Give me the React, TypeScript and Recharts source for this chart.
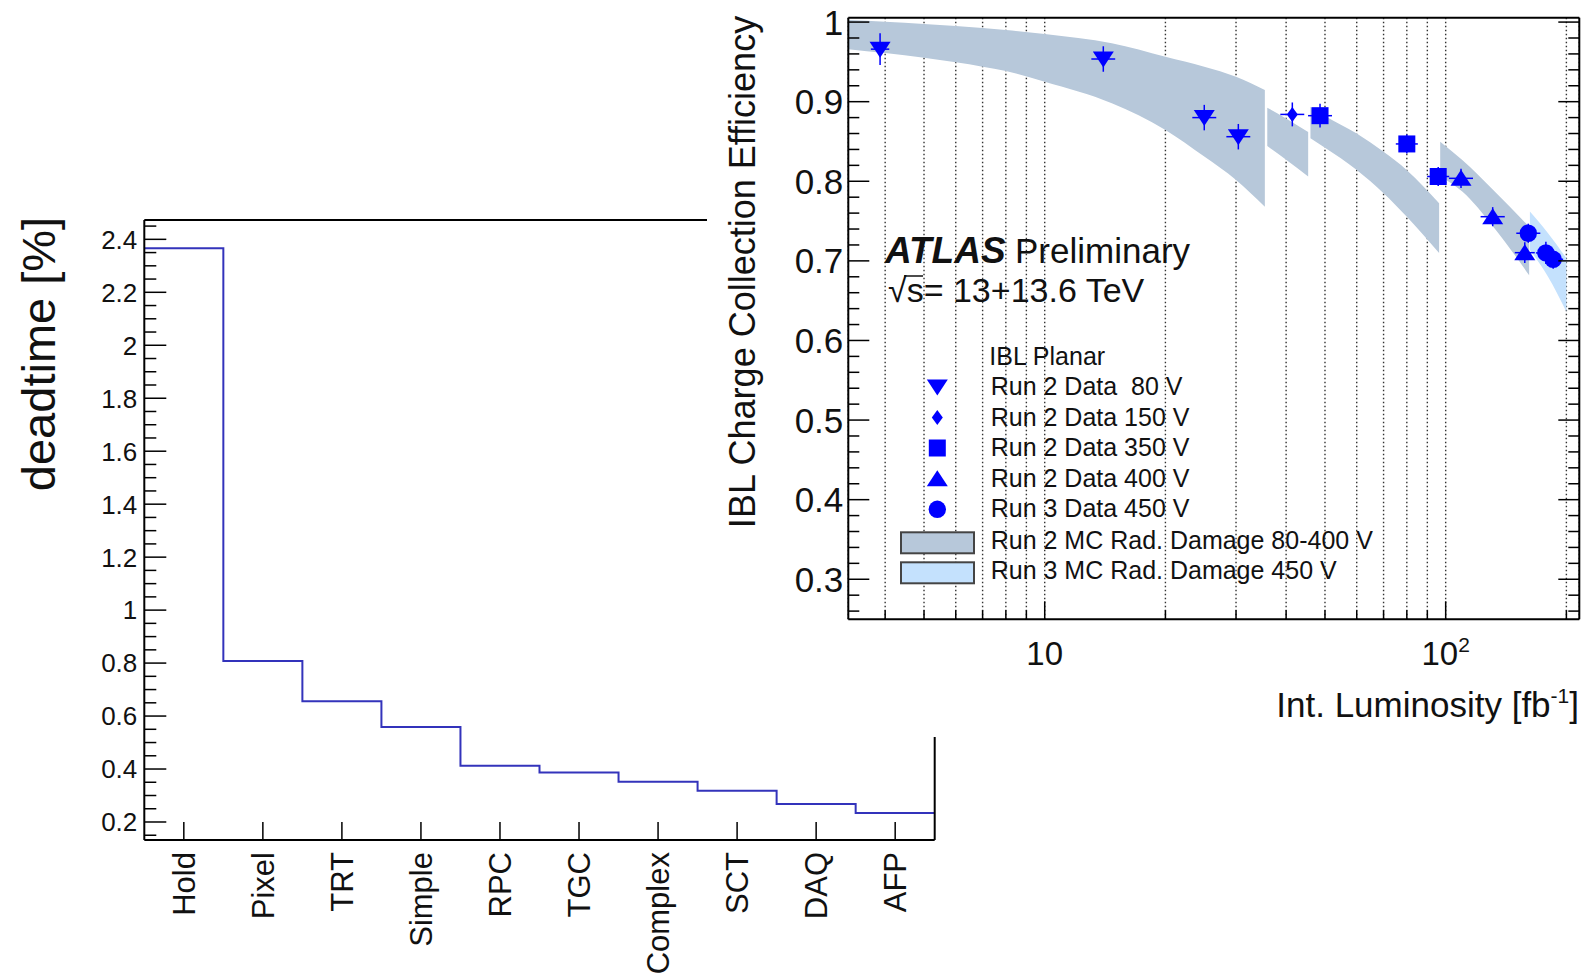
import React from 'react';
import { ComposedChart, Line, Area, Scatter, XAxis, YAxis, CartesianGrid, ErrorBar } from 'recharts';

const FONT = '"Liberation Sans", Arial, Helvetica, sans-serif';

// ---------------- Left chart: deadtime histogram ----------------
const triggerCategories = ['Hold', 'Pixel', 'TRT', 'Simple', 'RPC', 'TGC', 'Complex', 'SCT', 'DAQ', 'AFP'];
const deadtimeValues = [2.366, 0.808, 0.656, 0.559, 0.412, 0.387, 0.352, 0.318, 0.268, 0.234];
const deadtimeMajorTicks = [0.2, 0.4, 0.6, 0.8, 1.0, 1.2, 1.4, 1.6, 1.8, 2.0, 2.2, 2.4];
const deadtimeTickLabels = ['0.2', '0.4', '0.6', '0.8', '1', '1.2', '1.4', '1.6', '1.8', '2', '2.2', '2.4'];
const deadtimeDomain = [0.132, 2.473];
const deadtimeAllTicks = Array.from({ length: 47 }, (_, i) => +(0.15 + 0.05 * i).toFixed(2));

// ---------------- Right chart: IBL charge collection efficiency ----------------
const lumiTicks = [4, 5, 6, 7, 8, 9, 10, 20, 30, 40, 50, 60, 70, 80, 90, 100, 200];
const lumiDomain = [3.237, 215.4];
const effMajorTicks = [0.3, 0.4, 0.5, 0.6, 0.7, 0.8, 0.9, 1.0];
const effTickLabels = ['0.3', '0.4', '0.5', '0.6', '0.7', '0.8', '0.9', '1'];
const effDomain = [0.2497, 1.0055];
const effAllTicks = Array.from({ length: 38 }, (_, i) => +(0.26 + 0.02 * i).toFixed(2));

const lumi80 = [3.885, 14.0, 25.0, 30.4];
const eff80 = [0.966, 0.9536, 0.88, 0.856];
const effErr80 = [0.02, 0.016, 0.016, 0.016];
const lumiErr80 = [[0.2, 0.21], [0.93, 0.99], [1.66, 1.78], [2.02, 2.16]];

const lumi150 = [41.45];
const eff150 = [0.884];
const effErr150 = [0.015];
const lumiErr150 = [[2.76, 2.94]];

const lumi350 = [48.6, 80.0, 95.8];
const eff350 = [0.8824, 0.8469, 0.806];
const effErr350 = [0.015, 0.012, 0.012];
const lumiErr350 = [[3.23, 3.45], [4.9, 5.22], [5.86, 6.25]];

const lumi400 = [109.2, 131.0, 157.5];
const eff400 = [0.8037, 0.7555, 0.7103];
const effErr400 = [0.012, 0.012, 0.013];
const lumiErr400 = [[7.3, 7.8], [8.8, 9.4], [8.8, 9.3]];

const lumi450 = [160.7, 177.8, 185.4];
const eff450 = [0.7347, 0.71, 0.702];
const effErr450 = [0.012, 0.014, 0.012];
const lumiErr450 = [[10.7, 11.5], [9.9, 10.5], [10.3, 10.9]];

// MC bands: [lumi, low, high]
const bandRun2A = [[3.237, 0.966, 1.0026], [4, 0.961, 1.0005], [5, 0.9553, 0.9976], [6, 0.9495, 0.995], [7, 0.944, 0.9926], [8, 0.9386, 0.99], [10, 0.925, 0.985], [14.7, 0.898, 0.9734], [20, 0.8645, 0.9565], [25, 0.831, 0.944], [30, 0.8016, 0.9314], [35.4, 0.768, 0.9147]];
const bandRun2B = [[35.9, 0.8443, 0.8925], [40, 0.827, 0.879], [45.4, 0.806, 0.862]];
const bandRun2C = [[46.0, 0.854, 0.8937], [50, 0.842, 0.882], [60, 0.8142, 0.86], [70, 0.785, 0.837], [80, 0.7555, 0.814], [96.3, 0.71, 0.7724]];
const bandRun2D = [[96.9, 0.806, 0.8498], [110, 0.787, 0.8266], [131.4, 0.743, 0.789], [161.5, 0.682, 0.743]];
const bandRun3 = [[162.2, 0.7137, 0.762], [180, 0.68, 0.7347], [200, 0.636, 0.7033]];

const seriesNames = ['Run 2 Data  80 V', 'Run 2 Data 150 V', 'Run 2 Data 350 V', 'Run 2 Data 400 V', 'Run 3 Data 450 V'];
const seriesMarkers = ['triDown', 'diamond', 'square', 'triUp', 'circle'];
const bandNames = ['Run 2 MC Rad. Damage 80-400 V', 'Run 3 MC Rad. Damage 450 V'];
const bandColors = ['#b7c8da', '#c4e1fd'];
const MARKER_BLUE = '#0000ff';

const makePoints = (xs: number[], ys: number[], ey: number[], ex: number[][]) =>
  xs.map((x, i) => ({ x, y: ys[i], ey: ey[i], ex: ex[i] }));

const seriesData = [
  makePoints(lumi80, eff80, effErr80, lumiErr80),
  makePoints(lumi150, eff150, effErr150, lumiErr150),
  makePoints(lumi350, eff350, effErr350, lumiErr350),
  makePoints(lumi400, eff400, effErr400, lumiErr400),
  makePoints(lumi450, eff450, effErr450, lumiErr450),
];

const bandSets: [string, number[][]][] = [
  ['r2a', bandRun2A], ['r2b', bandRun2B], ['r2c', bandRun2C], ['r2d', bandRun2D], ['r3', bandRun3],
];
const bandData = bandSets
  .flatMap(([key, rows]) => rows.map(([x, lo, hi]) => ({ x, [key]: [lo, hi] } as any)))
  .sort((a, b) => a.x - b.x);

const histData = triggerCategories
  .map((_, i) => ({ x: i, v: deadtimeValues[i] }))
  .concat([{ x: triggerCategories.length, v: deadtimeValues[deadtimeValues.length - 1] }]);
const categoryTicks = triggerCategories.map((_, i) => i + 0.5);

// ---------------- markers ----------------
const Marker = ({ kind, cx, cy }: { kind: string; cx: number; cy: number }) => {
  if (cx == null || cy == null) return null;
  switch (kind) {
    case 'triDown':
      return <path d={`M${cx - 10.5},${cy - 7.5}L${cx + 10.5},${cy - 7.5}L${cx},${cy + 8.5}Z`} fill={MARKER_BLUE} />;
    case 'triUp':
      return <path d={`M${cx - 10.5},${cy + 7.5}L${cx + 10.5},${cy + 7.5}L${cx},${cy - 8.5}Z`} fill={MARKER_BLUE} />;
    case 'diamond':
      return <path d={`M${cx},${cy - 7.5}L${cx + 5.5},${cy}L${cx},${cy + 7.5}L${cx - 5.5},${cy}Z`} fill={MARKER_BLUE} />;
    case 'square':
      return <rect x={cx - 8.5} y={cy - 8.5} width={17} height={17} fill={MARKER_BLUE} />;
    default:
      return <circle cx={cx} cy={cy} r={8.7} fill={MARKER_BLUE} />;
  }
};

// ---------------- tick renderers ----------------
const near = (a: number, b: number) => Math.abs(a - b) < 1e-6;

const DeadYTick = (props: any) => {
  const { x, y, payload } = props;
  const idx = deadtimeMajorTicks.findIndex((t) => near(t, payload.value));
  const major = idx >= 0;
  return (
    <g>
      <line x1={x} x2={x + (major ? 22 : 12)} y1={y} y2={y} stroke="#000" strokeWidth={1.5} />
      {major && (
        <text x={x - 7} y={y} dy="0.36em" textAnchor="end" fontSize={26} fontFamily={FONT} fill="#111">
          {deadtimeTickLabels[idx]}
        </text>
      )}
    </g>
  );
};

const DeadXTick = (props: any) => {
  const { x, y, payload } = props;
  const label = triggerCategories[Math.floor(payload.value)];
  return (
    <g>
      <line x1={x} x2={x} y1={y} y2={y - 18} stroke="#000" strokeWidth={1.5} />
      <text
        transform={`translate(${x},${y + 12}) rotate(-90)`}
        dy="0.36em"
        textAnchor="end"
        fontSize={31}
        fontFamily={FONT}
        fill="#111"
      >
        {label}
      </text>
    </g>
  );
};

const isMajorLumi = (v: number) => near(v, 10) || near(v, 100);

const LumiBottomTick = (props: any) => {
  const { x, y, payload } = props;
  const v = payload.value;
  const major = isMajorLumi(v);
  return (
    <g>
      <line x1={x} x2={x} y1={y} y2={y - (major ? 18 : 9)} stroke="#000" strokeWidth={1.5} />
      {near(v, 10) && (
        <text x={x} y={y + 46} textAnchor="middle" fontSize={33} fontFamily={FONT} fill="#111">10</text>
      )}
      {near(v, 100) && (
        <text x={x} y={y + 46} textAnchor="middle" fontSize={33} fontFamily={FONT} fill="#111">
          10<tspan dy={-13} fontSize={21}>2</tspan>
        </text>
      )}
    </g>
  );
};

const LumiTopTick = (props: any) => {
  const { x, y, payload } = props;
  const major = isMajorLumi(payload.value);
  return <line x1={x} x2={x} y1={y} y2={y + (major ? 18 : 8)} stroke="#000" strokeWidth={1.5} />;
};

const EffLeftTick = (props: any) => {
  const { x, y, payload } = props;
  const idx = effMajorTicks.findIndex((t) => near(t, payload.value));
  const major = idx >= 0;
  return (
    <g>
      <line x1={x} x2={x + (major ? 21 : 11)} y1={y} y2={y} stroke="#000" strokeWidth={1.5} />
      {major && (
        <text x={x - 5} y={y} dy="0.36em" textAnchor="end" fontSize={35} fontFamily={FONT} fill="#111">
          {effTickLabels[idx]}
        </text>
      )}
    </g>
  );
};

const EffRightTick = (props: any) => {
  const { x, y, payload } = props;
  const major = effMajorTicks.some((t) => near(t, payload.value));
  return <line x1={x} x2={x - (major ? 21 : 11)} y1={y} y2={y} stroke="#000" strokeWidth={1.5} />;
};

// ---------------- charts ----------------
const AXIS_LINE = { stroke: '#000', strokeWidth: 2 };

const DeadtimeChart = () => (
  <ComposedChart
    width={1000}
    height={975}
    data={histData}
    margin={{ top: 219, left: 143.3, right: 64.3, bottom: 134 }}
  >
    <XAxis
      dataKey="x"
      type="number"
      domain={[0, triggerCategories.length]}
      ticks={categoryTicks}
      interval={0}
      allowDataOverflow
      height={1}
      tickSize={0}
      tickMargin={0}
      tickLine={false}
      axisLine={AXIS_LINE}
      tick={DeadXTick}
    />
    <XAxis
      xAxisId="top"
      orientation="top"
      type="number"
      domain={[0, triggerCategories.length]}
      height={1}
      tick={false}
      tickLine={false}
      axisLine={AXIS_LINE}
    />
    <YAxis
      type="number"
      domain={deadtimeDomain}
      ticks={deadtimeAllTicks}
      interval={0}
      allowDataOverflow
      width={1}
      tickSize={0}
      tickMargin={0}
      tickLine={false}
      axisLine={AXIS_LINE}
      tick={DeadYTick}
    />
    <YAxis
      yAxisId="right"
      orientation="right"
      type="number"
      domain={deadtimeDomain}
      width={1}
      tick={false}
      tickLine={false}
      axisLine={AXIS_LINE}
    />
    <Line
      type="stepAfter"
      dataKey="v"
      stroke="#3333bb"
      strokeWidth={2}
      dot={false}
      activeDot={false}
      isAnimationActive={false}
    />
  </ComposedChart>
);

const EfficiencyChart = () => (
  <ComposedChart
    width={876}
    height={737}
    data={bandData}
    margin={{ top: 16.7, left: 140.3, right: 2.7, bottom: 116.7 }}
  >
    <XAxis
      dataKey="x"
      type="number"
      scale="log"
      domain={lumiDomain}
      ticks={lumiTicks}
      interval={0}
      allowDataOverflow
      height={1}
      tickSize={0}
      tickMargin={0}
      tickLine={false}
      axisLine={AXIS_LINE}
      tick={LumiBottomTick}
    />
    <XAxis
      xAxisId="top"
      orientation="top"
      type="number"
      scale="log"
      domain={lumiDomain}
      ticks={lumiTicks}
      interval={0}
      allowDataOverflow
      height={1}
      tickSize={0}
      tickMargin={0}
      tickLine={false}
      axisLine={AXIS_LINE}
      tick={LumiTopTick}
    />
    <YAxis
      type="number"
      domain={effDomain}
      ticks={effAllTicks}
      interval={0}
      allowDataOverflow
      width={1}
      tickSize={0}
      tickMargin={0}
      tickLine={false}
      axisLine={AXIS_LINE}
      tick={EffLeftTick}
    />
    <YAxis
      yAxisId="right"
      orientation="right"
      type="number"
      domain={effDomain}
      ticks={effAllTicks}
      interval={0}
      allowDataOverflow
      width={1}
      tickSize={0}
      tickMargin={0}
      tickLine={false}
      axisLine={AXIS_LINE}
      tick={EffRightTick}
    />
    {bandSets.map(([key]) => (
      <Area
        key={key}
        dataKey={key}
        type="monotone"
        stroke="none"
        fill={key === 'r3' ? bandColors[1] : bandColors[0]}
        fillOpacity={1}
        dot={false}
        activeDot={false}
        connectNulls={false}
        isAnimationActive={false}
      />
    ))}
    <CartesianGrid horizontal={false} vertical stroke="#333" strokeWidth={1.4} strokeDasharray="1.5 2.5" />
    {seriesData.map((pts, i) => (
      <Scatter
        key={seriesNames[i]}
        name={seriesNames[i]}
        data={pts}
        dataKey="y"
        isAnimationActive={false}
        shape={(p: any) => <Marker kind={seriesMarkers[i]} cx={p.cx} cy={p.cy} />}
      >
        <ErrorBar dataKey="ey" direction="y" width={0} stroke={MARKER_BLUE} strokeWidth={1.5} isAnimationActive={false} />
        <ErrorBar dataKey="ex" direction="x" width={0} stroke={MARKER_BLUE} strokeWidth={1.5} isAnimationActive={false} />
      </Scatter>
    ))}
  </ComposedChart>
);

// ---------------- texts and legend ----------------
const legendRowsY = [395, 425.5, 456, 486.7, 517.3];
const legendBandY = [549.3, 579.3];

const Overlay = () => (
  <svg width={1583} height={975} style={{ position: 'absolute', left: 0, top: 0, pointerEvents: 'none' }} fontFamily={FONT}>
    <text transform="translate(55,354) rotate(-90)" textAnchor="middle" fontSize={47} fill="#111">
      deadtime [%]
    </text>
    <text transform="translate(755,272) rotate(-90)" textAnchor="middle" fontSize={36} fill="#111">
      IBL Charge Collection Efficiency
    </text>
    <text x={1579} y={716.7} textAnchor="end" fontSize={35} fill="#111">
      Int. Luminosity [fb<tspan dy={-14} fontSize={21}>-1</tspan><tspan dy={14}>]</tspan>
    </text>
    <text x={885} y={263.3} fontSize={37} fontWeight="bold" fontStyle="italic" fill="#111">ATLAS</text>
    <text x={1015} y={263.3} fontSize={35} fill="#111">Preliminary</text>
    <text x={888} y={301.7} fontSize={34} fill="#111">
      √s= 13+13.6 TeV
    </text>
    <line x1={904} x2={923} y1={276} y2={276} stroke="#111" strokeWidth={1.5} />
    <text x={989.3} y={365} fontSize={25} fill="#111">IBL Planar</text>
    {seriesNames.map((n, i) => (
      <g key={n}>
        <Marker kind={seriesMarkers[i]} cx={937.3} cy={legendRowsY[i] - 8} />
        <text x={990.7} y={legendRowsY[i]} fontSize={25} fill="#111" style={{ whiteSpace: 'pre' }}>{n}</text>
      </g>
    ))}
    {bandNames.map((n, i) => (
      <g key={n}>
        <rect x={901} y={legendBandY[i] - 17} width={73} height={21} fill={bandColors[i]} stroke="#444" strokeWidth={2} />
        <text x={990.7} y={legendBandY[i]} fontSize={25} fill="#111">{n}</text>
      </g>
    ))}
  </svg>
);

export default function App() {
  return (
    <div style={{ position: 'absolute', left: 0, top: 0, width: 1583, height: 975, background: '#fff', overflow: 'hidden', fontFamily: FONT }}>
      <div style={{ position: 'absolute', left: 0, top: 0 }}>
        <DeadtimeChart />
      </div>
      <div style={{ position: 'absolute', left: 707, top: 0, width: 876, height: 737, background: '#fff' }}>
        <EfficiencyChart />
      </div>
      <Overlay />
    </div>
  );
}
